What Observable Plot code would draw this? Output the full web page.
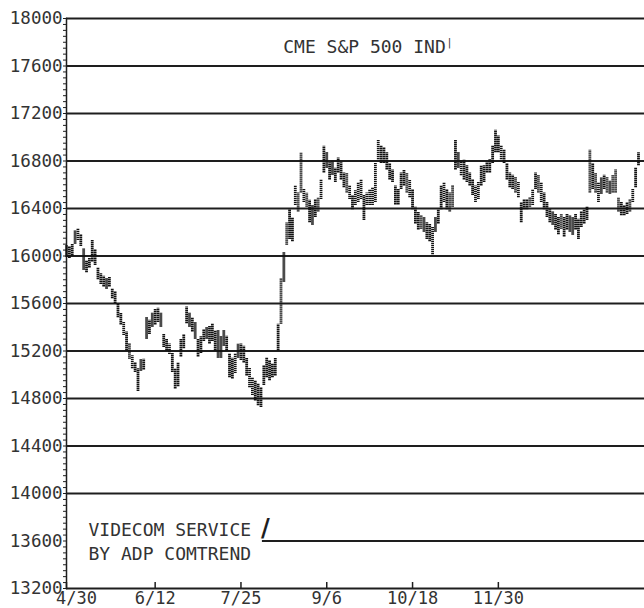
<!DOCTYPE html>
<html><head><meta charset="utf-8">
<script src="https://cdn.jsdelivr.net/npm/d3@7"></script>
<script src="https://cdn.jsdelivr.net/npm/@observablehq/plot@0.6"></script>
<style>html,body{margin:0;padding:0;background:#fff}</style>
</head><body><div id="chart"></div>
<script>
// Daily low / high of the CME S&P 500 index future (price x100), one entry per trading day
const lows = [15990,
  15980,16000,16100,16130,16080,15880,15860,15900,15950,15920,
  15800,15760,15740,15720,15740,15640,15600,15480,15420,15330,
  15200,15130,15050,15020,14860,15030,15040,15300,15340,15400,
  15420,15440,15400,15230,15200,15170,15020,14880,14900,15150,
  15220,15430,15400,15360,15300,15150,15180,15280,15300,15260,
  15280,15200,15140,15140,15240,15200,14975,14965,15010,15140,
  15120,15100,14990,14890,14825,14780,14740,14725,14910,14975,
  14950,14975,14990,15200,15425,15780,16090,16140,16120,16425,
  16370,16530,16450,16410,16280,16260,16325,16370,16475,16700,
  16740,16640,16680,16620,16700,16640,16575,16530,16475,16390,
  16425,16450,16475,16300,16425,16425,16425,16450,16810,16780,
  16780,16725,16640,16620,16430,16430,16560,16590,16530,16490,
  16390,16270,16220,16225,16200,16140,16120,16010,16200,16270,
  16390,16450,16390,16370,16410,16725,16740,16675,16640,16620,
  16590,16510,16450,16475,16590,16620,16700,16700,16780,16870,
  16870,16810,16780,16640,16575,16560,16530,16490,16280,16390,
  16390,16410,16425,16560,16530,16450,16390,16325,16280,16260,
  16220,16180,16225,16160,16220,16200,16175,16220,16140,16240,
  16270,16300,16530,16560,16530,16450,16520,16560,16530,16520,
  16530,16530,16370,16340,16340,16350,16370,16450,16575,16760];
const highs = [16090,
  16080,16100,16210,16230,16180,16060,15960,15980,16130,16050,
  15900,15850,15830,15810,15820,15720,15700,15600,15520,15440,
  15360,15260,15160,15100,15050,15130,15130,15480,15460,15520,
  15550,15560,15520,15340,15300,15260,15180,15050,15100,15300,
  15340,15570,15520,15480,15440,15300,15320,15380,15400,15410,
  15425,15370,15370,15325,15370,15325,15175,15140,15175,15260,
  15260,15240,15140,15060,14975,14950,14925,14890,15075,15140,
  15120,15090,15140,15425,15810,16030,16280,16390,16320,16590,
  16530,16870,16560,16530,16470,16425,16475,16490,16640,16925,
  16870,16785,16800,16740,16825,16785,16700,16700,16590,16510,
  16550,16620,16640,16510,16530,16560,16575,16780,16975,16925,
  16910,16870,16780,16725,16590,16560,16700,16725,16700,16640,
  16560,16410,16370,16340,16325,16280,16265,16240,16325,16390,
  16590,16620,16560,16530,16590,16975,16870,16810,16810,16760,
  16700,16640,16590,16620,16760,16760,16790,16810,16925,17060,
  17010,16930,16890,16780,16700,16680,16660,16620,16450,16475,
  16475,16490,16560,16700,16680,16620,16530,16450,16390,16370,
  16350,16325,16350,16325,16350,16340,16325,16350,16310,16370,
  16390,16410,16890,16780,16700,16620,16660,16680,16660,16630,
  16680,16725,16490,16450,16425,16450,16475,16560,16740,16870];

const xTickDays = [0, 31, 61, 91, 121, 151];
const xTickLabels = ["4/30", "6/12", "7/25", "9/6", "10/18", "11/30"];
const yLabelTicks = d3.range(13200, 18001, 400);
const yMinorTicks = d3.range(13200, 18001, 50);
const title = "CME S&P 500 IND";
const creditLines = ["VIDECOM SERVICE", "BY ADP COMTREND"];
const creditRuleValue = 13600;
const creditRuleStartDay = 68.5;
const lastDay = 202.1;

const bars = lows.map((lo, i) => ({day: i, low: lo, high: highs[i]}));
const W = 644, H = 608, mL = 66, mR = 0, mT = 18, mB = 20;
const frameH = H - mT - mB;
const font = "'DejaVu Sans Mono', 'Liberation Mono', monospace";
const ink = "#1e1e1e";
const textInk = "#333";

const chart = Plot.plot({
  width: W, height: H,
  marginLeft: mL, marginRight: mR, marginTop: mT, marginBottom: mB,
  style: {fontFamily: font, background: "#fff", color: textInk, overflow: "visible"},
  x: {domain: [0, lastDay], axis: null},
  y: {domain: [13200, 18000], axis: null},
  marks: [
    Plot.ruleY(yLabelTicks.filter(v => v !== creditRuleValue), {stroke: ink, strokeWidth: 2}),
    Plot.ruleY([creditRuleValue], {x1: creditRuleStartDay, x2: lastDay, stroke: ink, strokeWidth: 2}),
    Plot.frame({anchor: "left", stroke: ink, strokeWidth: 1.5}),
    Plot.axisY(yMinorTicks, {tickSize: 3, tickFormat: () => "", label: null, stroke: ink}),
    Plot.axisY(yLabelTicks, {tickSize: 0, tickPadding: 4, tickFormat: d => String(d), label: null,
      fontSize: 17.5, fill: textInk, fontFamily: font}),
    Plot.ruleX(xTickDays, {insetTop: frameH - 6, stroke: ink, strokeWidth: 1.5}),
    Plot.axisX(xTickDays.slice(0, 1), {tickSize: 0, tickPadding: 3, dx: 10, label: null,
      tickFormat: d => xTickLabels[xTickDays.indexOf(d)], fontSize: 17, fill: textInk, fontFamily: font}),
    Plot.axisX(xTickDays.slice(1), {tickSize: 0, tickPadding: 3, label: null,
      tickFormat: d => xTickLabels[xTickDays.indexOf(d)], fontSize: 17, fill: textInk, fontFamily: font}),
    Plot.ruleX(bars, {x: "day", y1: "low", y2: "high", stroke: "#111", strokeWidth: 2.8, strokeDasharray: "1.4,0.6"}),
    Plot.text([title], {frameAnchor: "top", dx: 9, dy: 28.5, lineAnchor: "middle",
      fontSize: 18, fill: textInk, fontFamily: font}),
    Plot.text(["|"], {frameAnchor: "top", dx: 94, dy: 24, lineAnchor: "middle",
      fontSize: 10, fill: textInk, fontFamily: font}),
    Plot.text([creditLines.join("\n")], {frameAnchor: "bottom-left", textAnchor: "start", dx: 22, dy: -48.5,
      lineAnchor: "middle", lineHeight: 1.333, fontSize: 18, fill: textInk, fontFamily: font}),
    Plot.text(["/"], {x: () => creditRuleStartDay, y: () => creditRuleValue, dx: 3, dy: -13, lineAnchor: "middle",
      fontSize: 24, fontWeight: "bold", fill: ink, fontFamily: "'DejaVu Sans', sans-serif"})
  ]
});
document.getElementById("chart").appendChild(chart);
</script>
</body></html>
